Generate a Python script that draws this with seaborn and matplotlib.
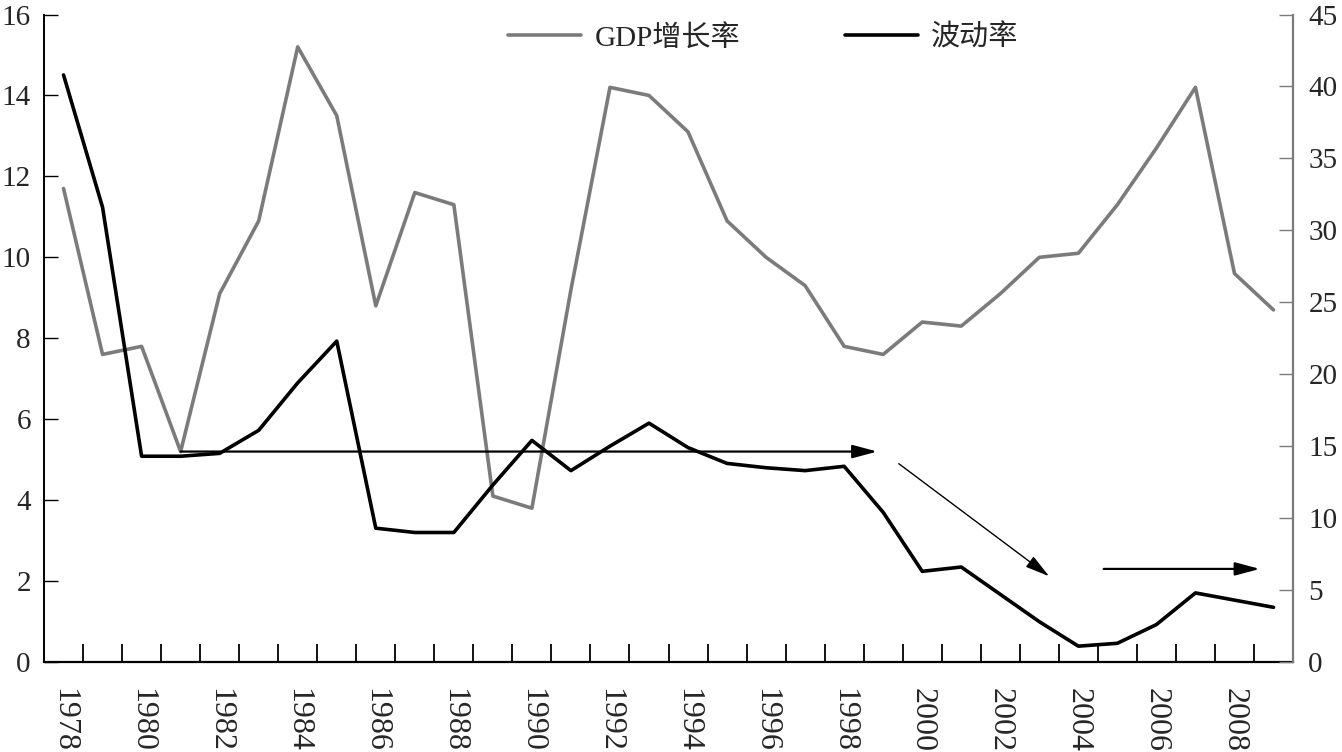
import matplotlib
matplotlib.use("Agg")
import matplotlib.pyplot as plt
import seaborn as sns
import numpy as np
import pandas as pd

years = list(range(1978, 2010))
gdp_growth = [11.7, 7.6, 7.8, 5.2, 9.1, 10.9, 15.2, 13.5, 8.8, 11.6, 11.3, 4.1,
              3.8, 9.2, 14.2, 14.0, 13.1, 10.9, 10.0, 9.3, 7.8, 7.6, 8.4, 8.3,
              9.1, 10.0, 10.1, 11.3, 12.7, 14.2, 9.6, 8.7]
volatility = [40.8, 31.6, 14.3, 14.3, 14.5, 16.1, 19.4, 22.3, 9.3, 9.0, 9.0, 12.3,
              15.4, 13.3, 15.0, 16.6, 14.9, 13.8, 13.5, 13.3, 13.6, 10.4, 6.3, 6.6,
              4.7, 2.8, 1.1, 1.3, 2.6, 4.8, 4.3, 3.8]
label_gdp = "GDP增长率"
label_vol = "波动率"
tick_years = list(range(1978, 2010, 2))
left_ticks = list(range(0, 17, 2))
right_ticks = list(range(0, 46, 5))

# trend arrows (x in years, y in left-axis units)
arrows = [
    ((1981, 5.2), (1998.85, 5.2), 1.6),
    ((1999.4, 4.9), (2003.25, 2.12), 1.0),
    ((2004.65, 2.3), (2008.65, 2.3), 1.6),
]

df = pd.DataFrame({"year": years, "gdp": gdp_growth, "vol": volatility})

sns.set_theme(style="white")
plt.rcParams["font.family"] = ["Liberation Serif", "Noto Sans CJK SC"]
plt.rcParams["font.size"] = 22

GRAY = "#7b7b7b"

fig = plt.figure(figsize=(13.42, 7.52), dpi=100)
ax = fig.add_axes([0.0328, 0.1197, 0.9307, 0.861])
ax2 = ax.twinx()

sns.lineplot(data=df, x="year", y="gdp", ax=ax, color=GRAY, lw=2.6, label=label_gdp, legend=False)
sns.lineplot(data=df, x="year", y="vol", ax=ax2, color="black", lw=2.6, label=label_vol, legend=False)

ax.set_xlim(years[0] - 0.5, years[-1] + 0.5)
ax.set_ylim(0, 16)
ax2.set_ylim(0, 45)
ax.set_xlabel("")
ax.set_ylabel("")
ax2.set_ylabel("")

# x ticks: marks at category boundaries, labels at centers
bounds = [y + 0.5 for y in years[:-1]]
ax.set_xticks(bounds)
ax.set_xticklabels([])
ax.set_xticks(tick_years, minor=True)
ax.set_xticklabels([str(y) for y in tick_years], minor=True, rotation=270)
ax.tick_params(axis="x", which="major", direction="in", length=13, width=1.3, color="black", bottom=True)
ax.tick_params(axis="x", which="minor", length=0, pad=19, labelsize=23, bottom=True)

ax.set_yticks(left_ticks)
ax.set_yticklabels([str(v) for v in left_ticks])
ax.tick_params(axis="y", direction="in", length=10, width=1.0, color="black", pad=9.5, labelsize=21, left=True)
ax2.set_yticks(right_ticks)
ax2.set_yticklabels([str(v) for v in right_ticks])
ax2.tick_params(axis="y", direction="in", length=10, width=1.0, color=GRAY, pad=11, labelsize=21, right=True)

for a in (ax, ax2):
    a.spines["top"].set_visible(False)
    a.grid(False)
ax.spines["left"].set_color("black")
ax.spines["left"].set_linewidth(1.4)
ax.spines["bottom"].set_color("black")
ax.spines["bottom"].set_linewidth(1.6)
ax.spines["right"].set_visible(False)
ax2.spines["left"].set_visible(False)
ax2.spines["bottom"].set_visible(False)
ax2.spines["right"].set_color(GRAY)
ax2.spines["right"].set_linewidth(1.6)

for (x0, y0), (x1, y1), lw in arrows:
    ax.annotate("", xy=(x1, y1), xytext=(x0, y0),
                arrowprops=dict(arrowstyle="-|>,head_length=0.75,head_width=0.2",
                                mutation_scale=20, lw=lw, color="black",
                                shrinkA=0, shrinkB=0), zorder=5)

h1, l1 = ax.get_legend_handles_labels()
h2, l2 = ax2.get_legend_handles_labels()
leg = ax2.legend(h1 + h2, l1 + l2, loc="center", bbox_to_anchor=(0.576, 0.964),
                 ncol=2, frameon=False, fontsize=21, handlelength=2.5,
                 columnspacing=3.6, handletextpad=0.45)

fig.savefig("out.png", dpi=100)
